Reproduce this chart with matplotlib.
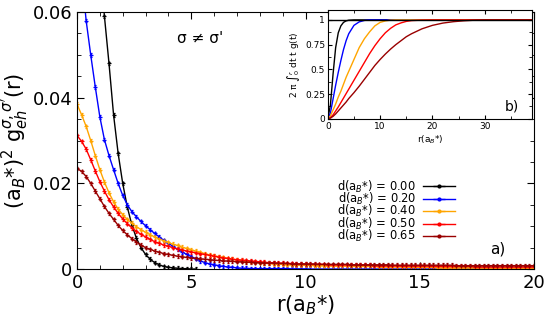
import numpy as np
import matplotlib
matplotlib.use("Agg")
import matplotlib.pyplot as plt
from matplotlib.ticker import MultipleLocator

# ---- main panel data: r grid and g(r) values (in units of 1e-4) ----
r = np.linspace(0, 20, 101)
labels = ["0.00", "0.20", "0.40", "0.50", "0.65"]
colors = ["black", "#0000ff", "#ffa500", "#ff0000", "#990000"]

g_000 = [1250, 1220, 1150, 1030, 880, 720, 590, 480, 360, 270, 200, 145, 103, 72,
         50, 34, 23, 15, 10, 6, 4, 3, 2, 1, 1, 0, 0]
g_020 = [800, 690, 580, 500, 425, 355,
         302, 265, 232, 200, 172,
         150, 134, 122, 111, 101,
         92, 83, 75, 67, 60,
         53, 46, 40, 34, 29,
         24, 19, 15, 12, 10,
         8, 6, 5, 4, 3,
         2, 2, 1, 1, 1,
         1, 1, 1, 1, 1, 1, 0.5, 0.5, 0.5, 0.5] + [0] * 50
g_040 = [385, 360, 333, 300, 265, 232,
         203, 178, 157, 140, 127,
         116, 107, 99, 92, 86,
         80, 75, 70, 66, 62,
         58, 55, 51, 48, 45,
         42, 39, 36, 33, 31,
         29, 27, 25, 23, 21,
         20, 18, 17, 16, 15,
         14, 13, 12, 12, 11, 10, 10, 9, 9, 9,
         9, 8, 8, 8, 8, 7, 7, 7, 7, 6,
         6, 6, 6, 6, 6, 5, 5, 5, 5, 5,
         5, 4, 4, 4, 4, 4, 4, 4, 3, 3,
         3, 3, 3, 3, 3, 3, 3, 3, 2, 2,
         2, 2, 2, 2, 2, 2, 2, 2, 2, 2]
g_050 = [312, 298, 280, 255, 229, 204,
         182, 162, 145, 130, 117,
         106, 96, 88, 81, 75,
         69, 64, 60, 56, 53,
         50, 47, 45, 42, 40,
         38, 36, 34, 32, 30,
         28, 26, 25, 23, 22,
         21, 20, 19, 18, 17,
         16, 15, 15, 14, 14, 13, 13, 12, 12, 12,
         11, 11, 11, 11, 10, 10, 10, 10, 10, 9,
         9, 9, 9, 9, 8, 8, 8, 8, 8, 8,
         7, 7, 7, 7, 7, 7, 7, 6, 6, 6,
         6, 6, 6, 6, 6, 6, 5, 5, 5, 5,
         5, 5, 5, 5, 5, 5, 5, 5, 5, 5]
g_065 = [235, 228, 216, 200, 182, 164,
         146, 130, 116, 102, 90,
         80, 71, 63, 56, 50,
         46, 42, 39, 36, 34,
         32, 30, 29, 27, 26,
         25, 24, 23, 22, 21,
         20, 19, 19, 18, 17,
         17, 16, 16, 15, 15,
         14, 14, 14, 13, 13, 13, 12, 12, 12, 12,
         12, 12, 11, 11, 11, 11, 11, 11, 11, 10,
         10, 10, 10, 10, 10, 10, 10, 10, 9, 9,
         9, 9, 9, 9, 9, 9, 9, 9, 9, 9,
         9, 9, 8, 8, 8, 8, 8, 8, 8, 8,
         8, 8, 8, 8, 8, 8, 8, 8, 8, 8]
err = 0.0004

# ---- inset data: cumulative integral ----
r_in = [0, 0.5, 1, 1.5, 2, 2.5, 3, 3.5, 4, 5, 6, 7, 8, 9, 10, 11, 12, 13, 14, 15,
        16, 18, 20, 22, 24, 26, 28, 30, 35, 39]
c_000 = [0, 0.14, 0.45, 0.72, 0.87, 0.94, 0.975, 0.99, 0.997, 1] + [1] * 20
c_020 = [0, 0.06, 0.2, 0.34, 0.47, 0.59, 0.70, 0.79, 0.86, 0.945, 0.98, 0.995, 1] + [1] * 17
c_040 = [0, 0.03, 0.09, 0.15, 0.22, 0.28, 0.35, 0.42, 0.48, 0.6, 0.72, 0.81, 0.88, 0.94,
         0.975, 0.99, 0.998, 1] + [1] * 12
c_050 = [0, 0.012, 0.04, 0.08, 0.12, 0.165, 0.21, 0.255, 0.30, 0.39, 0.48, 0.57, 0.66,
         0.74, 0.81, 0.87, 0.915, 0.95, 0.97, 0.985, 0.993, 0.998, 1] + [1] * 7
c_065 = [0, 0.008, 0.025, 0.05, 0.08, 0.11, 0.14, 0.17, 0.205, 0.265, 0.33, 0.40, 0.47,
         0.54, 0.60, 0.655, 0.705, 0.75, 0.79, 0.83, 0.86, 0.91, 0.945, 0.968, 0.982,
         0.991, 0.997, 1, 1, 1]

series = [g_000, g_020, g_040, g_050, g_065]
cumul = [c_000, c_020, c_040, c_050, c_065]

fig = plt.figure(figsize=(5.5, 3.23), dpi=100)
ax = fig.add_axes([0.14, 0.167, 0.831, 0.796])

handles = []
for g, col, lab in zip(series, colors, labels):
    y = np.array(g) * 1e-4
    x = r[:len(y)]
    ax.errorbar(x, y, yerr=err, color=col, lw=1, marker="+", ms=3.5, mew=0.9,
                capsize=1.0, elinewidth=0.8)
    h = ax.errorbar([], [], xerr=[], color=col, lw=1, marker=".", ms=4, capsize=2.5)
    handles.append((h, "d(a$_B$*) = " + lab))

ax.set_xlim(0, 20)
ax.set_ylim(0, 0.06)
ax.set_xticks([0, 5, 10, 15, 20])
ax.set_yticks([0, 0.02, 0.04, 0.06])
ax.set_yticklabels(["0", "0.02", "0.04", "0.06"])
ax.xaxis.set_minor_locator(MultipleLocator(1))
ax.yaxis.set_minor_locator(MultipleLocator(0.005))
ax.tick_params(which="both", direction="in", top=True, right=True, labelsize=13)
ax.tick_params(which="major", length=5)
ax.tick_params(which="minor", length=3)
ax.set_xlabel("r(a$_B$*)", fontsize=15, labelpad=1)
ax.set_ylabel("(a$_B$*)$^2$ g$_{eh}^{\\sigma,\\sigma'}$(r)", fontsize=15, labelpad=2)

ax.text(0.27, 0.88, "σ ≠ σ'", transform=ax.transAxes, fontsize=11, ha="center")
ax.text(0.92, 0.06, "a)", transform=ax.transAxes, fontsize=11, ha="center")

leg = ax.legend([h for h, _ in handles], [t for _, t in handles],
                loc="upper right", bbox_to_anchor=(0.84, 0.375), frameon=False,
                markerfirst=False, fontsize=8.3, handlelength=2.8,
                labelspacing=-0.32, borderpad=0, handletextpad=0.6)

# ---- inset ----
ins = fig.add_axes([0.596, 0.632, 0.371, 0.337])
for c, col in zip(cumul, colors):
    ins.plot(r_in, c, color=col, lw=1)
ins.axhline(1, color="black", lw=1)
ins.set_xlim(0, 39)
ins.set_ylim(0, 1.1)
ins.set_xticks([0, 10, 20, 30])
ins.set_yticks([0, 0.25, 0.5, 0.75, 1])
ins.set_yticklabels(["0", "0.25", "0.5", "0.75", "1"])
ins.xaxis.set_minor_locator(MultipleLocator(5))
ins.yaxis.set_minor_locator(MultipleLocator(0.125))
ins.tick_params(which="both", direction="in", top=True, right=True, labelsize=6.5, pad=2)
ins.tick_params(which="major", length=3)
ins.tick_params(which="minor", length=2)
ins.set_xlabel("r(a$_B$*)", fontsize=6.5, labelpad=2)
ins.set_ylabel("2 π ∫$_0^r$ dt t g(t)", fontsize=6.5, labelpad=2)
ins.text(0.9, 0.08, "b)", transform=ins.transAxes, fontsize=10, ha="center")

fig.savefig("out.png", dpi=100)
